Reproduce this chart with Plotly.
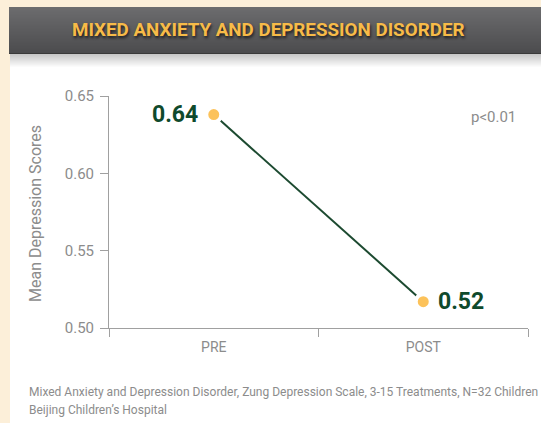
import plotly.graph_objects as go

# ---- data ----
categories = ["PRE", "POST"]
scores = [0.638, 0.517]
score_labels = ["0.64", "0.52"]
y_ticks = [0.50, 0.55, 0.60, 0.65]
y_tick_labels = ["0.50", "0.55", "0.60", "0.65"]
title_text = "MIXED ANXIETY AND DEPRESSION DISORDER"
y_title = "Mean Depression Scores"
p_text = "p<0.01"
footnote_lines = [
    "Mixed Anxiety and Depression Disorder, Zung Depression Scale, 3-15 Treatments, N=32 Children",
    "Beijing Children\u2019s Hospital",
]

W, H = 541, 423
L, R, T, B = 109, 13, 96, 95
PW, PH = W - L - R, H - T - B

def px(x):
    return (x - L) / PW

def py(y):
    return (H - B - y) / PH

FONT = "Roboto, Liberation Sans, sans-serif"
GRAY = "#8c8c8c"
AXIS = "#a0a0a0"
GREEN = "#0f4a2c"
LINE_GREEN = "#1c4a30"
DOT = "#fcc25a"
CREAM = "#fcefd9"

fig = go.Figure()
fig.add_trace(go.Scatter(
    x=categories, y=scores, mode="lines",
    line=dict(color=LINE_GREEN, width=2), hoverinfo="skip", showlegend=False,
))
fig.add_trace(go.Scatter(
    x=categories, y=scores, mode="markers",
    marker=dict(color=DOT, size=15, line=dict(color="white", width=4)),
    showlegend=False,
))

shapes = []
# cream background strips
shapes.append(dict(type="rect", xref="paper", yref="paper", x0=px(0), x1=px(W), y0=py(H), y1=py(0),
                   fillcolor=CREAM, line=dict(width=0), layer="below"))
shapes.append(dict(type="rect", xref="paper", yref="paper", x0=px(10), x1=px(W), y0=py(H), y1=py(7),
                   fillcolor="white", line=dict(width=0), layer="below"))
# header gradient
top, bot = (0x6c, 0x6c, 0x6e), (0x4c, 0x4c, 0x4e)
n = 46
for i in range(n):
    f = i / (n - 1)
    c = tuple(int(round(top[k] + (bot[k] - top[k]) * f)) for k in range(3))
    shapes.append(dict(type="rect", xref="paper", yref="paper", x0=px(9), x1=px(W),
                       y0=py(7 + i + 1), y1=py(7 + i),
                       fillcolor="rgb(%d,%d,%d)" % c, line=dict(width=0), layer="below"))
shapes.append(dict(type="rect", xref="paper", yref="paper", x0=px(9), x1=px(W),
                   y0=py(54), y1=py(53), fillcolor="#3a3a3a", line=dict(width=0), layer="below"))
# soft shadow below header
m = 14
for i in range(m):
    f = i / (m - 1)
    v = int(round(0xc8 + (0xff - 0xc8) * f))
    shapes.append(dict(type="rect", xref="paper", yref="paper", x0=px(10), x1=px(W),
                       y0=py(54 + i + 1), y1=py(54 + i),
                       fillcolor="rgb(%d,%d,%d)" % (v, v, v), line=dict(width=0), layer="below"))

annotations = []
annotations.append(dict(x=px(268), y=py(30), xref="paper", yref="paper", text="<b>%s</b>" % title_text,
                        showarrow=False, xanchor="center", yanchor="middle",
                        font=dict(family=FONT, size=18.8, color="#f7bb48",
                                  shadow="1px 2px 3px rgba(0,0,0,0.7)")))
for c, v, lab, side in zip(categories, scores, score_labels, ["left", "right"]):
    annotations.append(dict(x=c, y=v, xref="x", yref="y", text="<b>%s</b>" % lab, showarrow=False,
                            xanchor="right" if side == "left" else "left", yanchor="middle",
                            xshift=-14 if side == "left" else 13,
                            font=dict(family=FONT, size=23, color=GREEN)))
annotations.append(dict(x=px(518), y=py(117), xref="paper", yref="paper", text=p_text, showarrow=False,
                        xanchor="right", yanchor="middle", font=dict(family=FONT, size=15, color=GRAY)))
annotations.append(dict(x=px(35), y=py(214), xref="paper", yref="paper", text=y_title, showarrow=False,
                        textangle=-90, xanchor="center", yanchor="middle",
                        font=dict(family=FONT, size=16, color=GRAY)))
for i, line in enumerate(footnote_lines):
    annotations.append(dict(x=px(27), y=py(392 + 18 * i), xref="paper", yref="paper", text=line,
                            showarrow=False, xanchor="left", yanchor="middle",
                            font=dict(family=FONT, size=12, color=GRAY)))

fig.update_layout(
    width=W, height=H, margin=dict(l=L, r=R, t=T, b=B),
    paper_bgcolor="white", plot_bgcolor="white",
    shapes=shapes, annotations=annotations, showlegend=False,
    font=dict(family=FONT, color=GRAY),
)
fig.update_xaxes(
    type="category", range=[-0.5, 1.5], showline=True, linecolor=AXIS, linewidth=1,
    ticks="outside", tickson="boundaries", ticklen=8, tickcolor=AXIS, tickwidth=1,
    showgrid=False, zeroline=False, tickfont=dict(family=FONT, size=14, color=GRAY),
    ticklabelstandoff=6,
)
fig.update_yaxes(
    range=[0.5, 0.65], tickvals=y_ticks, ticktext=y_tick_labels, showline=True, linecolor=AXIS,
    linewidth=1, ticks="outside", ticklen=8, tickcolor=AXIS, tickwidth=1, showgrid=False,
    zeroline=False, tickfont=dict(family=FONT, size=15, color=GRAY), ticklabelstandoff=3,
)

fig.write_html("out.html", config={"displayModeBar": False},
               post_script="document.body.style.margin='0';document.body.style.overflow='hidden';")
